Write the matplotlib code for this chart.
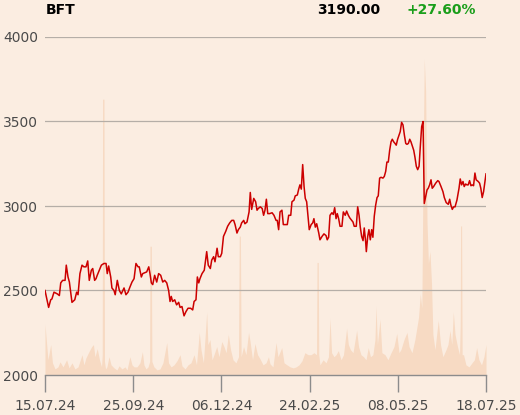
import numpy as np
import matplotlib
matplotlib.use("Agg")
import matplotlib.pyplot as plt

# trading-day index (0 = 15.07.24, 255 = 18.07.25) and close price
price_day = [0, 2.1, 3.3, 4.0, 5.2, 7.1, 8.3, 9.1, 10.2, 11.6, 12.3, 13.3, 14.1, 14.9, 15.6,
             17.2, 18.3, 19.1, 20.2, 21.4, 22.5, 23.7, 24.7, 25.6, 26.8, 27.6, 28.7, 29.5, 30.2,
             31.4, 32.6, 34.1, 35.3, 36.0, 36.8, 38.0, 38.7, 39.9, 40.6, 41.8, 43.0, 44.1, 45.7,
             46.8, 48.0, 49.1, 50.3, 51.5, 52.6, 53.8, 54.5, 55.7, 56.5, 57.6, 58.8, 60.0, 60.7,
             61.5, 62.3, 63.4, 64.6, 65.7, 66.9, 68.1, 69.2, 70.4, 71.5, 72.3, 73.0, 73.8, 75.0,
             76.1, 77.3, 78.1, 79.2, 80.4, 81.5, 82.7, 84.2, 85.4, 86.2, 87.3, 88.1, 88.9, 89.6,
             90.8, 92.1, 93.5, 94.4, 95.6, 96.4, 97.5, 98.3, 99.5, 100.2, 101.4, 102.2, 103.2,
             104.5, 105.6, 106.8, 108.0, 109.1, 109.9, 111.0, 111.8, 112.9, 113.7, 114.9, 115.6,
             116.8, 118.0, 118.7, 119.5, 120.7, 121.8, 122.6, 123.3, 124.5, 125.6, 126.4, 127.2,
             128.0, 128.8, 129.9, 131.3, 132.4, 133.6, 134.3, 135.1, 135.9, 137.0, 137.8, 138.9,
             140.1, 140.9, 142.1, 142.8, 144.0, 144.7, 145.9, 146.7, 147.4, 148.2, 149.0, 149.8,
             150.5, 151.3, 152.1, 152.8, 153.9, 154.8, 155.5, 156.3, 157.1, 158.3, 159.0, 160.2,
             161.3, 162.5, 163.2, 164.0, 164.8, 165.9, 166.7, 167.5, 168.3, 169.0, 169.8, 170.6,
             171.7, 172.5, 173.6, 174.4, 175.4, 176.2, 177.3, 178.1, 178.8, 180.0, 180.8, 181.6,
             182.3, 183.1, 183.9, 184.6, 185.4, 185.8, 186.6, 187.3, 188.1, 188.9, 189.6, 190.4,
             191.2, 192.0, 192.7, 193.5, 194.3, 195.4, 196.2, 197.0, 197.7, 198.5, 199.3, 200.1,
             200.8, 201.6, 202.4, 203.1, 203.9, 204.7, 205.4, 206.2, 207.0, 207.8, 208.6, 209.3,
             210.1, 210.9, 211.6, 212.4, 213.2, 213.9, 214.7, 215.5, 216.3, 217.0, 217.8, 218.6,
             219.3, 220.1, 220.9, 221.6, 222.4, 223.2, 223.9, 224.7, 225.9, 227.1, 227.8, 229.0,
             230.1, 230.9, 232.0, 233.2, 234.0, 234.7, 235.5, 236.3, 237.1, 238.2, 239.4, 240.1,
             240.9, 241.7, 242.4, 243.2, 244.0, 244.7, 245.5, 246.3, 247.0, 247.8, 248.6, 249.3,
             250.5, 251.3, 252.0, 252.8, 253.6, 255]
price = [2500, 2400, 2445, 2450, 2490, 2480, 2470, 2545, 2560, 2560, 2650, 2580, 2550, 2485, 2430,
         2445, 2490, 2475, 2600, 2650, 2640, 2640, 2675, 2560, 2620, 2630, 2560, 2570, 2590,
         2620, 2650, 2660, 2660, 2600, 2645, 2580, 2515, 2500, 2475, 2560, 2500, 2480, 2515,
         2475, 2490, 2520, 2550, 2570, 2660, 2640, 2640, 2580, 2600, 2605, 2610, 2640, 2600,
         2545, 2535, 2590, 2550, 2600, 2590, 2550, 2560, 2545, 2500, 2435, 2465, 2435, 2445,
         2415, 2430, 2400, 2405, 2350, 2375, 2395, 2395, 2385, 2435, 2445, 2580, 2545, 2570,
         2600, 2620, 2730, 2650, 2630, 2680, 2700, 2670, 2750, 2700, 2700, 2720, 2820,
         2850, 2880, 2900, 2915, 2915, 2890, 2840, 2860, 2875, 2900, 2915, 2895,
         2905, 2965, 3080, 2980, 3045, 3025, 2975, 2985, 2995, 2985, 2945, 2975,
         3040, 2955, 2955, 2960, 2945, 2915, 2915, 2860, 2965, 2975, 2890, 2890,
         2890, 2945, 2945, 3025, 3035, 3060, 3065, 3100, 3125, 3100, 3245, 3115,
         3045, 3025, 2935, 2860, 2890, 2900, 2925, 2875, 2895, 2840, 2800, 2820,
         2835, 2825, 2800, 2815, 2945, 2960, 2950, 2990, 2925, 2955, 2925, 2880,
         2880, 2965, 2945, 2970, 2945, 2930, 2915, 2905, 2880, 2880, 2995, 2945,
         2875, 2820, 2795, 2870, 2790, 2730, 2820, 2860, 2800, 2860, 2815, 2940,
         3005, 3050, 3060, 3165, 3170, 3165, 3175, 3205, 3260, 3260, 3330, 3380,
         3395, 3380, 3370, 3360, 3395, 3420, 3440, 3495, 3480, 3420, 3370, 3365,
         3370, 3395, 3380, 3355, 3330, 3290, 3235, 3215, 3235, 3350, 3470, 3500,
         3015, 3055, 3095, 3105, 3125, 3155, 3105, 3115, 3135, 3150, 3145, 3115,
         3085, 3050, 3020, 3010, 3040, 3005, 2980, 2995, 2995, 3035, 3105, 3160,
         3125, 3145, 3115, 3130, 3125, 3125, 3150, 3120, 3125, 3120, 3195, 3155,
         3145, 3135, 3105, 3050, 3085, 3190]

# traded volume (thousand shares)
vol_day = [0, 1.7, 3.3, 4.3, 5.8, 7.5, 8.7, 10.4, 12.5, 13.9, 15.6, 17.3, 19.1, 21.4, 22.5, 23.7,
           25.4, 27.0, 28.0, 28.9, 30.2, 31.5, 32.7, 33.1, 33.3, 34.1, 34.4, 35.0, 35.8, 37.0, 38.2,
           39.9, 41.6, 42.8, 44.5, 46.3, 47.4, 49.1, 50.3, 51.5, 53.2, 54.9, 56.3, 57.2, 58.4,
           59.6, 60.5, 60.7, 61.5, 61.8, 63.0, 64.8, 66.5, 68.2, 70.4, 71.4, 72.9, 74.6, 76.3, 78.1,
           79.2, 81.0, 82.7, 84.4, 86.2, 87.6, 89.2, 90.2, 91.6, 93.5, 94.2, 95.4, 96.6, 97.7,
           99.3, 100.6, 102.2, 103.5, 104.7, 106.0, 107.3, 108.7, 110.4, 111.9, 112.3, 113.0, 113.4,
           114.8, 116.2, 117.7, 118.5, 120.0, 121.4, 122.9, 124.3, 126.1, 127.8, 129.2, 130.1,
           131.8, 133.6, 134.7, 136.9, 138.2, 139.9, 141.7, 143.6, 145.2, 146.9, 148.6, 150.3,
           152.1, 153.8, 155.5, 157.0, 157.3, 158.0, 158.3, 159.0, 160.8, 162.5, 163.9, 164.8, 165.7,
           167.1, 168.3, 169.6, 171.2, 172.6, 174.4, 175.4, 176.6, 178.1, 180.2, 181.3, 182.7,
           184.2, 185.6, 186.9, 188.2, 189.6, 190.8, 191.4, 192.2, 193.7, 194.8, 196.6, 198.3,
           200.1, 201.8, 203.4, 204.7, 205.8, 207.6, 209.3, 210.5, 212.2, 213.9, 216.0, 217.0,
           217.9, 218.6, 219.3, 220.1, 220.9, 221.7, 222.6, 223.5, 224.3, 225.5, 227.4, 228.7,
           230.1, 231.9, 233.0, 234.2, 235.2, 236.1, 237.1, 238.5, 239.7, 240.1, 240.3, 240.9,
           241.2, 242.0, 243.4, 245.2, 246.9, 248.3, 249.6, 250.9, 252.4, 253.8, 255]
volume = [150, 45, 90, 36, 18, 24, 39, 24, 45, 21, 36, 18, 24, 60, 30, 51,
          69, 84, 90, 54, 78, 45, 24, 60, 816, 816, 40, 18, 24, 54, 30,
          21, 15, 27, 18, 24, 15, 54, 30, 24, 24, 36, 69, 30, 18,
          24, 40, 381, 381, 40, 24, 15, 18, 36, 96, 36, 24, 30, 42, 60,
          27, 18, 30, 36, 60, 30, 126, 75, 36, 186, 90, 105, 45, 60,
          84, 54, 99, 84, 66, 120, 75, 45, 36, 54, 411, 411, 54,
          84, 60, 126, 102, 45, 93, 60, 48, 30, 36, 54, 33,
          24, 96, 54, 81, 36, 30, 24, 21, 24, 30, 42, 66,
          60, 60, 66, 60, 333, 333, 60, 30, 45, 36, 54, 168, 66,
          54, 60, 72, 45, 60, 138, 90, 75, 66, 132, 84, 60,
          54, 45, 81, 54, 60, 105, 204, 90, 165, 66, 60, 45,
          66, 84, 123, 66, 75, 105, 126, 84, 66, 105, 171, 240,
          198, 600, 936, 840, 450, 330, 366, 270, 120, 75, 162, 90,
          54, 75, 90, 132, 90, 186, 120, 84, 60, 150, 441, 441,
          60, 60, 30, 24, 36, 45, 81, 45, 30, 54, 90]

tick_pos = [0, 51, 102, 153, 204, 255]
tick_labels = ["15.07.24", "25.09.24", "06.12.24", "24.02.25", "08.05.25", "18.07.25"]

ticker = "BFT"
last_price = "3190.00"
change = "+27.60%"

bg = "#fbede1"
grid_col = "#b5aea7"
text_col = "#4a4a4a"

fig = plt.figure(figsize=(5.2, 4.15), dpi=100, facecolor=bg)
ax = fig.add_axes([45/520, 1 - 375/415, 441/520, 338/415])
ax2 = ax.twinx()

# volume in the background
ax2.fill_between(vol_day, volume, 0, color="#f7dac3", lw=0)
ax2.set_ylim(0, 1000)
ax2.axis("off")

ax.set_zorder(ax2.get_zorder() + 1)
ax.patch.set_visible(False)
ax2.patch.set_facecolor(bg)
ax2.patch.set_visible(True)

ax.plot(price_day, price, color="#cc0000", lw=1.1, zorder=3)
ax.set_xlim(0, 255)
ax.set_ylim(2000, 4000)
ax.set_yticks([2000, 2500, 3000, 3500, 4000])
for y in [2500, 3000, 3500, 4000]:
    ax.axhline(y, color=grid_col, lw=0.9, zorder=1)

for s in ["top", "right", "left"]:
    ax.spines[s].set_visible(False)
ax.spines["bottom"].set_color("#8c8c8c")
ax.spines["bottom"].set_linewidth(1.0)

ax.set_xticks(tick_pos)
ax.set_xticklabels(tick_labels)
ax.tick_params(axis="x", length=12, width=1, color="#8c8c8c", colors=text_col,
               labelsize=10, pad=5)
ax.tick_params(axis="y", length=0, colors=text_col, labelsize=10, pad=5)
for lbl in ax.get_xticklabels():
    lbl.set_color(text_col)

fig.text(46/520, 1 - 10/415, ticker, fontsize=10, fontweight="bold", color="black",
         ha="left", va="center")
fig.text(380/520, 1 - 10/415, last_price, fontsize=10, fontweight="bold", color="black",
         ha="right", va="center")
fig.text(407/520, 1 - 10/415, change, fontsize=10, fontweight="bold", color="#1a9e1a",
         ha="left", va="center")

fig.savefig("out.png", dpi=100, facecolor=bg)
